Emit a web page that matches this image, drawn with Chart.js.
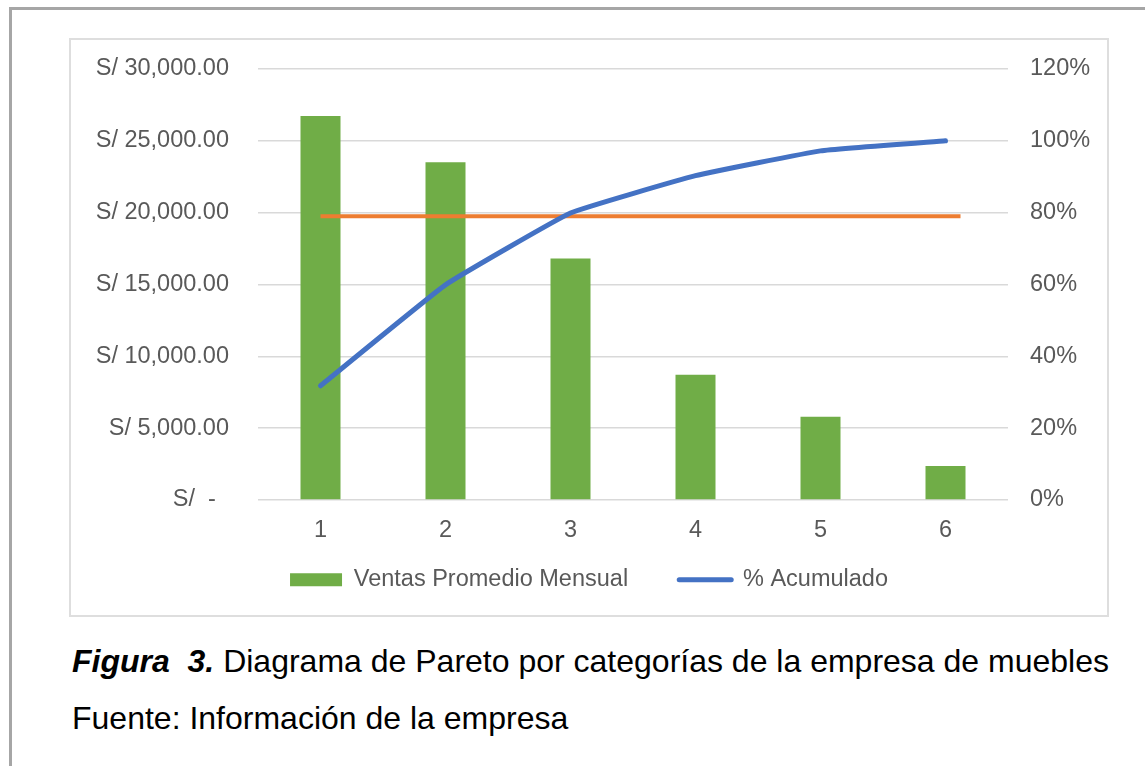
<!DOCTYPE html>
<html>
<head>
<meta charset="utf-8">
<script src="https://cdn.jsdelivr.net/npm/chart.js@4.4.1/dist/chart.umd.min.js"></script>
<style>
  body { margin: 0; background: #fff; font-family: "Liberation Sans", Arial, sans-serif; }
  #frame { position: absolute; left: 9px; top: 7px; width: 1200px; height: 800px;
           border-left: 3px solid #a6a6a6; border-top: 3px solid #a6a6a6; }
  #box { position: absolute; left: 69px; top: 38px; width: 1036px; height: 575px;
         border: 2px solid #dedede; }
  #box canvas { display: block; }
  .caption { position: absolute; left: 72px; font-size: 32px; line-height: 32px; color: #000; white-space: nowrap; }
</style>
</head>
<body>
<div id="frame"></div>
<div id="box"><canvas id="pareto" width="1036" height="575"></canvas></div>
<div class="caption" style="top:645px"><b><i>Figura&nbsp; 3.</i></b> Diagrama de Pareto por categorías de la empresa de muebles</div>
<div class="caption" style="top:702px">Fuente: Información de la empresa</div>

<script>
// values
const categories = ["1", "2", "3", "4", "5", "6"];
const ventas = [26720, 23510, 16815, 8720, 5790, 2370];
const acumulado = [0.318, 0.599, 0.799, 0.903, 0.972, 1.0];
const metaX = [1, 6.12];
const metaPct = [0.79, 0.79];
const ventasMax = 30000, ventasStep = 5000;
const pctMax = 1.2, pctStep = 0.2;

const green = "#70AD47", blue = "#4472C4", orange = "#ED7D31";
const tickFont = { family: "'Liberation Sans', Arial, sans-serif", size: 23.5 };
const tickColor = "#595959";

function soles(v) {
  if (v === 0) return "S/  -  ";
  return "S/ " + v.toLocaleString("en-US", { minimumFractionDigits: 2, maximumFractionDigits: 2 });
}

// keep the tick padding from pushing the plot area down
function noEdgePadding(s, width) {
  s.width = width;
  s.paddingTop = 0;
  s.paddingBottom = 0;
}

new Chart(document.getElementById("pareto"), {
  type: "bar",
  data: {
    labels: categories,
    datasets: [
      {
        type: "bar",
        // trailing spaces widen the gap to the next legend entry
        label: "Ventas Promedio Mensual    ",
        data: ventas,
        yAxisID: "y",
        backgroundColor: green,
        borderWidth: 0,
        grouped: false,
        barPercentage: 0.32,
        categoryPercentage: 1,
        order: 2,
      },
      {
        type: "line",
        label: "% Acumulado",
        data: acumulado,
        yAxisID: "y2",
        borderColor: blue,
        backgroundColor: blue,
        borderWidth: 5,
        borderCapStyle: "round",
        borderJoinStyle: "round",
        tension: 0.1,
        pointRadius: 0,
        pointStyle: "line",
        order: 0,
      },
      {
        type: "line",
        label: "",
        data: metaX.map((x, i) => ({ x: x, y: metaPct[i] })),
        xAxisID: "xm",
        yAxisID: "y2",
        borderColor: orange,
        borderWidth: 4,
        pointRadius: 0,
        order: 1,
      },
    ],
  },
  options: {
    responsive: false,
    animation: false,
    layout: { padding: { top: 29, left: 0, right: 0, bottom: 13.5 } },
    plugins: {
      tooltip: { enabled: false },
      legend: {
        position: "bottom",
        labels: {
          font: tickFont,
          color: tickColor,
          usePointStyle: true,
          pointStyleWidth: 52,
          boxHeight: 13,
          padding: 25,
          generateLabels: (chart) =>
            Chart.defaults.plugins.legend.labels.generateLabels(chart)
              .filter((item) => item.text)
              .sort((a, b) => a.datasetIndex - b.datasetIndex)
              .map((item) => {
                if (item.text === "% Acumulado") {
                  item.pointStyle = "line";
                  item.lineWidth = 5;
                  item.lineCap = "round";
                  item.strokeStyle = blue;
                } else {
                  item.pointStyle = "rect";
                  item.lineWidth = 0;
                  item.fillStyle = green;
                }
                return item;
              }),
        },
      },
    },
    scales: {
      x: {
        type: "category",
        grid: { display: false, drawTicks: false },
        border: { display: false },
        ticks: { font: tickFont, color: tickColor, padding: 16 },
        afterFit: (s) => { s.height = 43; },
      },
      xm: { type: "linear", min: 0.5, max: 6.5, offset: false, display: false },
      y: {
        position: "left",
        min: 0,
        max: ventasMax,
        grid: { color: "#d9d9d9", lineWidth: 1.5, drawTicks: false },
        border: { display: false },
        ticks: { stepSize: ventasStep, font: tickFont, color: tickColor, padding: 29, callback: soles },
        afterFit: (s) => noEdgePadding(s, 187),
      },
      y2: {
        position: "right",
        min: 0,
        max: pctMax,
        grid: { drawOnChartArea: false, drawTicks: false },
        border: { display: false },
        ticks: {
          stepSize: pctStep, font: tickFont, color: tickColor, padding: 22,
          callback: (v) => Math.round(v * 100) + "%",
        },
        afterFit: (s) => noEdgePadding(s, 99),
      },
    },
  },
});
</script>
</body>
</html>
